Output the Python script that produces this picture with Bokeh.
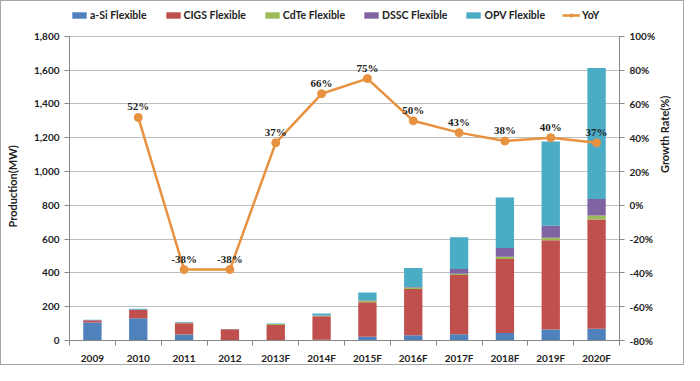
import math
from bokeh.plotting import figure
from bokeh.models import (ColumnDataSource, Range1d, LinearAxis, FixedTicker,
                          NumeralTickFormatter, PrintfTickFormatter, Legend,
                          LegendItem, LabelSet)
from bokeh.embed import file_html
from bokeh.resources import INLINE

years = ["2009", "2010", "2011", "2012", "2013F", "2014F", "2015F",
         "2016F", "2017F", "2018F", "2019F", "2020F"]
asi = [106, 131, 35, 3, 3, 5, 22, 31, 37, 45, 65, 70]
cigs = [13, 49, 67, 63, 89, 138, 205, 274, 351, 437, 528, 646]
cdte = [0, 0, 2, 0, 5, 3, 8, 8, 7, 13, 15, 24]
dssc = [2, 4, 3, 0, 0, 2, 3, 4, 28, 53, 71, 97]
opv = [2, 4, 3, 2, 3, 12, 46, 112, 188, 298, 499, 776]
yoy = [None, 52, -38, -38, 37, 66, 75, 50, 43, 38, 40, 37]

series_names = ["a-Si Flexible", "CIGS Flexible", "CdTe Flexible",
                "DSSC Flexible", "OPV Flexible"]
colors = ["#4F81BD", "#C0504D", "#9BBB59", "#8064A2", "#4BACC6"]
orange = "#E8913F"
FONT = "Lato"
PAD = "\u00a0" * 10   # nudges the left axis title toward the 0..1800 span centre

xs = list(range(len(years)))
src = ColumnDataSource(dict(x=xs, asi=asi, cigs=cigs, cdte=cdte, dssc=dssc, opv=opv))

W, H = 684, 365
BL, BR, BT, BB = 68, 66, 4, 24
frame_h = H - BT - BB
axis_px = 306                      # pixel height of the 0..1800 axis
ymax = 1800 * frame_h / axis_px    # extra room on top for the legend
p = figure(width=W, height=H, output_backend="svg", toolbar_location=None,
           x_range=Range1d(-0.5, len(years) - 0.5), y_range=Range1d(0, ymax))
p.min_border_left = BL
p.min_border_right = BR
p.min_border_bottom = BB
p.min_border_top = BT
p.outline_line_color = None
p.background_fill_color = "white"
p.styles = {"border": "1px solid #a6a6a6"}

rs = p.vbar_stack(["asi", "cigs", "cdte", "dssc", "opv"], x="x", width=0.4,
                  color=colors, source=src, line_color=None)

p.extra_y_ranges = {"yoy": Range1d(-80, -80 + ymax / 10)}
lx = [x for x, v in zip(xs, yoy) if v is not None]
ly = [v for v in yoy if v is not None]
lsrc = ColumnDataSource(dict(x=lx, y=ly, t=[f"{v}%" for v in ly]))
lr = p.line("x", "y", source=lsrc, y_range_name="yoy", line_color=orange, line_width=2.5)
mr = p.scatter("x", "y", source=lsrc, y_range_name="yoy", size=8, color=orange)
labels = LabelSet(x="x", y="y", text="t", source=lsrc, y_range_name="yoy",
                  text_align="center", text_baseline="bottom", y_offset=5,
                  text_font=FONT, text_font_size="11px", text_font_style="bold",
                  text_color="#222222")
p.add_layout(labels)

# axes
xa = p.xaxis[0]
xa.ticker = FixedTicker(ticks=xs, minor_ticks=[x - 0.5 for x in xs] + [len(xs) - 0.5])
xa.major_label_overrides = {i: y for i, y in enumerate(years)}
xa.major_tick_line_color = None
xa.minor_tick_in = 0
xa.minor_tick_out = 5
xa.minor_tick_line_color = "#868686"
xa.axis_line_color = "#868686"

ya = p.yaxis[0]
ya.ticker = FixedTicker(ticks=list(range(0, 1801, 200)))
ya.formatter = NumeralTickFormatter(format="0,0")
ya.axis_label = "Production(MW)" + PAD
ya.bounds = (0, 1800)
ya.minor_tick_line_color = None
ya.major_tick_in = 0
ya.major_tick_out = 5
ya.axis_line_color = "#868686"
ya.major_tick_line_color = "#868686"

ra = LinearAxis(y_range_name="yoy", axis_label="Growth Rate(%)", bounds=(-80, 100))
ra.ticker = FixedTicker(ticks=list(range(-80, 101, 20)))
ra.formatter = PrintfTickFormatter(format="%d%%")
ra.minor_tick_line_color = None
ra.major_tick_in = 0
ra.major_tick_out = 5
ra.axis_line_color = "#868686"
ra.major_tick_line_color = "#868686"
ra.axis_label_orientation = -1.5 * math.pi
p.add_layout(ra, "right")

for ax in [xa, ya, ra]:
    ax.major_label_text_font = FONT
    ax.major_label_text_font_size = "10px"
    ax.major_label_text_font_style = "bold"
    ax.major_label_text_color = "#222222"
    ax.axis_label_text_font = FONT
    ax.axis_label_text_font_size = "11px"
    ax.axis_label_text_font_style = "bold"
    ax.axis_label_text_color = "#222222"
ya.axis_label_standoff = 12
ra.axis_label_standoff = 6

p.xgrid.grid_line_color = None
p.ygrid.ticker = FixedTicker(ticks=list(range(200, 1801, 200)))
p.ygrid.grid_line_color = "#BEBEBE"
p.ygrid.grid_line_width = 1

items = [LegendItem(label=n, renderers=[r]) for n, r in zip(series_names, rs)]
items.append(LegendItem(label="YoY", renderers=[lr, mr]))
leg = Legend(items=items, orientation="horizontal", location=(1, frame_h - 18),
             glyph_width=18, glyph_height=8, label_standoff=2, spacing=17,
             label_text_font=FONT, label_text_font_size="10.5px",
             label_text_font_style="bold", label_text_color="#222222",
             border_line_color=None, background_fill_alpha=0, padding=0, margin=0)
p.add_layout(leg)

open("out.html", "w").write(file_html(p, INLINE))
